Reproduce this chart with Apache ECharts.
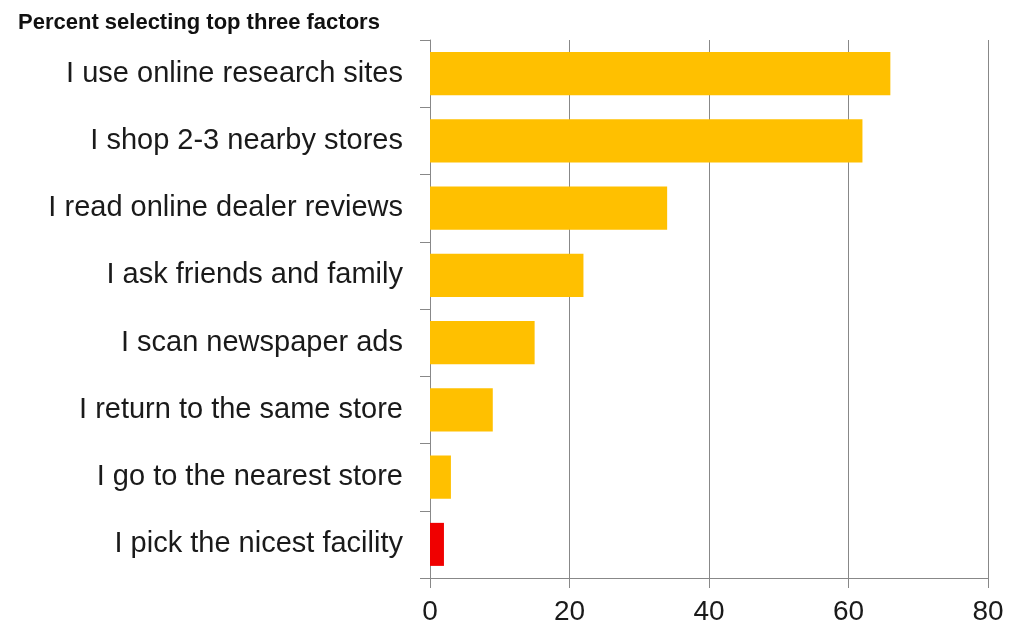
<!DOCTYPE html>
<html>
<head>
<meta charset="utf-8">
<script src="https://cdn.jsdelivr.net/npm/echarts@6/dist/echarts.min.js"></script>
<style>
html,body{margin:0;padding:0;background:#fff;}
#chart{width:1010px;height:630px;}
</style>
</head>
<body>
<div id="chart"></div>
<script>
var categories = [
  "I use online research sites",
  "I shop 2-3 nearby stores",
  "I read online dealer reviews",
  "I ask friends and family",
  "I scan newspaper ads",
  "I return to the same store",
  "I go to the nearest store",
  "I pick the nicest facility"
];
var values = [66, 62, 34, 22, 15, 9, 3, 2];
var highlighted = "I pick the nicest facility";
var titleText = "Percent selecting top three factors";

var chart = echarts.init(document.getElementById('chart'));
chart.setOption({
  animation: false,
  title: {
    text: titleText,
    left: 13, top: 7,
    textStyle: {fontFamily: 'Liberation Sans, Arial, sans-serif', fontSize: 22, fontWeight: 'bold', color: '#111'}
  },
  grid: {left: 430, right: 22, top: 40, bottom: 52},
  xAxis: {
    type: 'value', min: 0, max: 80, interval: 20,
    axisLine: {show: true, lineStyle: {color: '#888', width: 1}},
    axisTick: {show: true, length: 10, lineStyle: {color: '#888'}},
    splitLine: {show: true, lineStyle: {color: '#888', width: 1}},
    axisLabel: {margin: 20, fontFamily: 'Liberation Sans, Arial, sans-serif', fontSize: 28, color: '#1a1a1a'}
  },
  yAxis: {
    type: 'category', inverse: true, data: categories,
    axisLine: {show: true, lineStyle: {color: '#888', width: 1}},
    axisTick: {show: true, length: 10, lineStyle: {color: '#888'}},
    axisLabel: {margin: 27, fontFamily: 'Liberation Sans, Arial, sans-serif', fontSize: 29, color: '#1a1a1a'}
  },
  series: [{
    type: 'bar',
    barCategoryGap: '36%',
    data: values.map(function(v, i){
      return {value: v, itemStyle: {color: categories[i] === highlighted ? '#F00000' : '#FFC000'}};
    })
  }]
});
</script>
</body>
</html>
